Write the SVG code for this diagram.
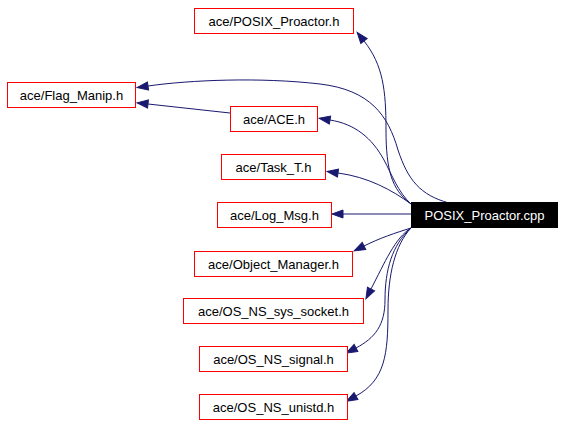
<svg xmlns="http://www.w3.org/2000/svg" width="564" height="426" viewBox="0 0 564 426">
<style>
.n rect{fill:#fff;stroke:#f00;stroke-width:1}
.n text{font-family:"Liberation Sans",Arial,sans-serif;font-size:13px;fill:#000;text-anchor:middle}
.r rect{fill:#000;stroke:#000}
.r text{font-family:"Liberation Sans",Arial,sans-serif;font-size:13px;fill:#fff;text-anchor:middle}
.e path{fill:none;stroke:#191970;stroke-width:1;marker-end:url(#a)}
</style>
<defs>
<marker id="a" markerUnits="userSpaceOnUse" markerWidth="12" markerHeight="10" refX="0" refY="4" orient="auto" overflow="visible">
<path d="M0,0 L11,4 L0,8 z" fill="#191970" stroke="#191970"/>
</marker>
</defs>
<rect width="564" height="426" fill="#fff"/>
<g id="edges" class="e">
<path d="M410,203 C392,190 386,170 386,130 C386,90 383,65 364,41"/>
<path d="M449,203 C420,195 408,180 398,150 C388,115 370,90 320,84 C260,77 190,80 148,86"/>
<path d="M230,113 L148,104"/>
<path d="M411,204 C398,192 392,175 384,160 C372,138 355,124 330,120"/>
<path d="M411,204 C392,190 368,177 338,173"/>
<path d="M411,214 L343,214"/>
<path d="M411,228 C395,233 380,238 364,246"/>
<path d="M411,228 C395,238 385,262 371,289"/>
<path d="M411,228 C392,245 385,270 385,300 C385,325 375,338 356,348"/>
<path d="M411,228 C395,245 388,275 388,310 C388,355 385,380 356,396"/>
</g>
<g id="n_posix_h" class="n"><rect x="194.5" y="8.5" width="159" height="25"/><text x="274" y="26">ace/POSIX_Proactor.h</text></g>
<g id="n_flag" class="n"><rect x="7.5" y="82.5" width="128" height="25"/><text x="71.5" y="100">ace/Flag_Manip.h</text></g>
<g id="n_ace" class="n"><rect x="230.5" y="106.5" width="87" height="25"/><text x="274" y="124">ace/ACE.h</text></g>
<g id="n_task" class="n"><rect x="221.5" y="154.5" width="104" height="25"/><text x="273.5" y="172">ace/Task_T.h</text></g>
<g id="n_log" class="n"><rect x="217.5" y="202.5" width="114" height="25"/><text x="274.5" y="220">ace/Log_Msg.h</text></g>
<g id="n_root" class="r"><rect x="411.5" y="202.5" width="146" height="25"/><text x="484.5" y="220">POSIX_Proactor.cpp</text></g>
<g id="n_objmgr" class="n"><rect x="194.5" y="251.5" width="158" height="25"/><text x="273.5" y="269">ace/Object_Manager.h</text></g>
<g id="n_socket" class="n"><rect x="183.5" y="298.5" width="180" height="25"/><text x="273.5" y="316">ace/OS_NS_sys_socket.h</text></g>
<g id="n_signal" class="n"><rect x="199.5" y="346.5" width="148" height="25"/><text x="273.5" y="364">ace/OS_NS_signal.h</text></g>
<g id="n_unistd" class="n"><rect x="199.5" y="394.5" width="148" height="25"/><text x="273.5" y="412">ace/OS_NS_unistd.h</text></g>
</svg>
